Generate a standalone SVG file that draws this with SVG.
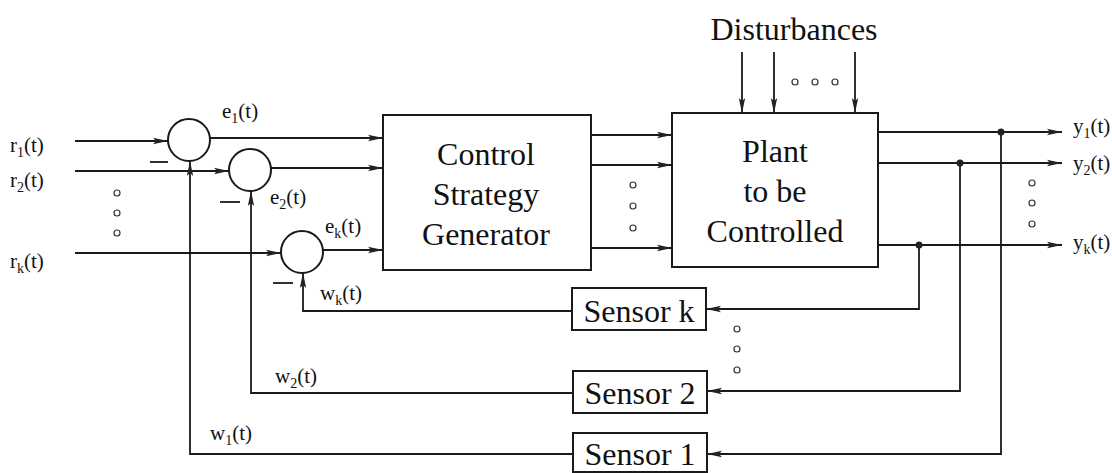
<svg xmlns="http://www.w3.org/2000/svg" width="1112" height="473" viewBox="0 0 1112 473">
<style>
.ln{stroke:#1a1a1a;stroke-width:1.8;fill:none}
.bx{stroke:#1a1a1a;stroke-width:2;fill:#fff}
.big{font-family:"Liberation Serif",serif;font-size:32px;fill:#111;text-anchor:middle}
.lb{font-family:"Liberation Serif",serif;font-size:21px;fill:#111}
.sub{font-size:14px}
.dot{stroke:#333;stroke-width:1.2;fill:#fff}
.jn{fill:#222}
</style>
<defs>
<marker id="ah" markerUnits="userSpaceOnUse" markerWidth="16" markerHeight="8" refX="15" refY="4" orient="auto">
<path d="M0,0.8 L15,4 L0,7.2 L3,4 Z" fill="#222"/>
</marker>
</defs>
<rect width="1112" height="473" fill="#fff"/>

<g id="connectors">
<!-- inputs -->
<line class="ln" x1="75" y1="141" x2="168" y2="141" marker-end="url(#ah)"/>
<line class="ln" x1="75" y1="171" x2="229" y2="171" marker-end="url(#ah)"/>
<line class="ln" x1="75" y1="253" x2="281" y2="253" marker-end="url(#ah)"/>
<!-- errors -->
<line class="ln" x1="210" y1="138" x2="383" y2="138" marker-end="url(#ah)"/>
<line class="ln" x1="271" y1="168" x2="383" y2="168" marker-end="url(#ah)"/>
<line class="ln" x1="323" y1="250" x2="383" y2="250" marker-end="url(#ah)"/>
<!-- controls -->
<line class="ln" x1="591" y1="135" x2="672" y2="135" marker-end="url(#ah)"/>
<line class="ln" x1="591" y1="165" x2="672" y2="165" marker-end="url(#ah)"/>
<line class="ln" x1="591" y1="248" x2="672" y2="248" marker-end="url(#ah)"/>
<!-- disturbances -->
<line class="ln" x1="742" y1="52" x2="742" y2="113" marker-end="url(#ah)"/>
<line class="ln" x1="774" y1="52" x2="774" y2="113" marker-end="url(#ah)"/>
<line class="ln" x1="855" y1="52" x2="855" y2="113" marker-end="url(#ah)"/>
<!-- outputs -->
<line class="ln" x1="878" y1="132" x2="1062" y2="132" marker-end="url(#ah)"/>
<line class="ln" x1="878" y1="163" x2="1062" y2="163" marker-end="url(#ah)"/>
<line class="ln" x1="878" y1="245" x2="1062" y2="245" marker-end="url(#ah)"/>
<!-- output taps to sensors -->
<polyline class="ln" points="1001,132 1001,454 707,454" marker-end="url(#ah)"/>
<polyline class="ln" points="960,163 960,391 707,391" marker-end="url(#ah)"/>
<polyline class="ln" points="919,245 919,309 706,309" marker-end="url(#ah)"/>
<circle class="jn" cx="1001" cy="132" r="3.5"/>
<circle class="jn" cx="960" cy="163" r="3.5"/>
<circle class="jn" cx="919" cy="245" r="3.5"/>
<!-- feedback -->
<polyline class="ln" points="573,454 190,454 190,161" marker-end="url(#ah)"/>
<polyline class="ln" points="573,393 251,393 251,191" marker-end="url(#ah)"/>
<polyline class="ln" points="572,311 303,311 303,273" marker-end="url(#ah)"/>
</g>

<g id="sum1"><circle class="bx" cx="189" cy="140" r="21"/><line class="ln" x1="150" y1="162" x2="168" y2="162"/></g>
<g id="sum2"><circle class="bx" cx="250" cy="170" r="21"/><line class="ln" x1="220" y1="202" x2="240" y2="202"/></g>
<g id="sumk"><circle class="bx" cx="302" cy="252" r="21"/><line class="ln" x1="273" y1="283" x2="293" y2="283"/></g>

<g id="controller">
<rect class="bx" x="383" y="115" width="208" height="155"/>
<text class="big" x="486" y="165">Control</text>
<text class="big" x="486" y="205">Strategy</text>
<text class="big" x="486" y="245">Generator</text>
</g>

<g id="plant">
<rect class="bx" x="672" y="113" width="206" height="154"/>
<text class="big" x="775" y="162">Plant</text>
<text class="big" x="775" y="202">to be</text>
<text class="big" x="775" y="242">Controlled</text>
</g>

<g id="sensork"><rect class="bx" x="572" y="288" width="134" height="42"/><text class="big" x="639" y="322">Sensor k</text></g>
<g id="sensor2"><rect class="bx" x="573" y="371" width="134" height="42"/><text class="big" x="640" y="404">Sensor 2</text></g>
<g id="sensor1"><rect class="bx" x="573" y="433" width="134" height="39"/><text class="big" x="640" y="465">Sensor 1</text></g>

<g id="labels">
<text class="big" x="794" y="40">Disturbances</text>
<text class="lb" x="10" y="152">r<tspan class="sub" dy="5">1</tspan><tspan dy="-5">(t)</tspan></text>
<text class="lb" x="10" y="187">r<tspan class="sub" dy="5">2</tspan><tspan dy="-5">(t)</tspan></text>
<text class="lb" x="10" y="268">r<tspan class="sub" dy="5">k</tspan><tspan dy="-5">(t)</tspan></text>
<text class="lb" x="222" y="118">e<tspan class="sub" dy="5">1</tspan><tspan dy="-5">(t)</tspan></text>
<text class="lb" x="270" y="204">e<tspan class="sub" dy="5">2</tspan><tspan dy="-5">(t)</tspan></text>
<text class="lb" x="325" y="233">e<tspan class="sub" dy="5">k</tspan><tspan dy="-5">(t)</tspan></text>
<text class="lb" x="320" y="300">w<tspan class="sub" dy="5">k</tspan><tspan dy="-5">(t)</tspan></text>
<text class="lb" x="275" y="383">w<tspan class="sub" dy="5">2</tspan><tspan dy="-5">(t)</tspan></text>
<text class="lb" x="210" y="440">w<tspan class="sub" dy="5">1</tspan><tspan dy="-5">(t)</tspan></text>
<text class="lb" x="1073" y="133">y<tspan class="sub" dy="5">1</tspan><tspan dy="-5">(t)</tspan></text>
<text class="lb" x="1073" y="170">y<tspan class="sub" dy="5">2</tspan><tspan dy="-5">(t)</tspan></text>
<text class="lb" x="1073" y="249">y<tspan class="sub" dy="5">k</tspan><tspan dy="-5">(t)</tspan></text>
</g>

<g id="ellipses">
<circle class="dot" cx="117" cy="193" r="3"/><circle class="dot" cx="117" cy="213" r="3"/><circle class="dot" cx="117" cy="233" r="3"/>
<circle class="dot" cx="633" cy="185" r="3"/><circle class="dot" cx="633" cy="206" r="3"/><circle class="dot" cx="633" cy="228" r="3"/>
<circle class="dot" cx="795" cy="82" r="3"/><circle class="dot" cx="815" cy="82" r="3"/><circle class="dot" cx="835" cy="82" r="3"/>
<circle class="dot" cx="1032" cy="183" r="3"/><circle class="dot" cx="1032" cy="203" r="3"/><circle class="dot" cx="1032" cy="224" r="3"/>
<circle class="dot" cx="737" cy="329" r="3"/><circle class="dot" cx="737" cy="349" r="3"/><circle class="dot" cx="737" cy="370" r="3"/>
</g>
</svg>
